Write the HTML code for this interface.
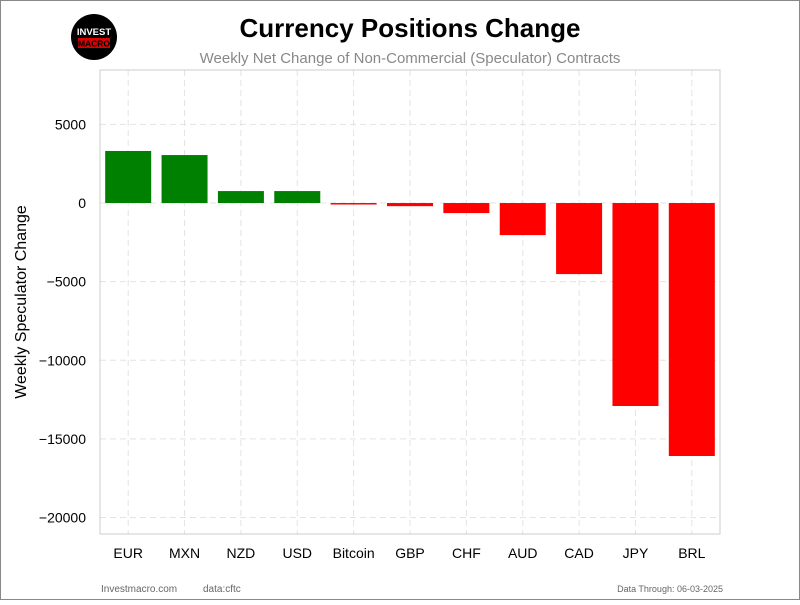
<!DOCTYPE html>
<html><head><meta charset="utf-8"><style>
html,body{margin:0;padding:0;background:#fff;}
body{width:800px;height:600px;overflow:hidden;font-family:"Liberation Sans",sans-serif;}
</style></head><body>
<svg width="800" height="600" xmlns="http://www.w3.org/2000/svg" style="font-family:'Liberation Sans',sans-serif">
<rect x="0.5" y="0.5" width="799" height="599" fill="#fff" stroke="#888"/>
<g>
<circle cx="94" cy="37" r="23" fill="#000"/>
<text x="94" y="35" font-size="9.5" font-weight="bold" fill="#fff" text-anchor="middle">INVEST</text>
<rect x="78" y="38" width="32" height="10" fill="#d00"/>
<text x="94" y="46.5" font-size="8.5" font-weight="bold" fill="#000" text-anchor="middle">MACRO</text>
</g>
<text x="410" y="37" font-size="26" font-weight="bold" text-anchor="middle">Currency Positions Change</text>
<text x="410" y="63" font-size="15" fill="#888" text-anchor="middle">Weekly Net Change of Non-Commercial (Speculator) Contracts</text>
<g id="grid"></g>
<g id="bars"></g>
<rect x="100" y="70" width="620" height="464" fill="none" stroke="#ccc"/>
<g id="yticks"></g>
<g id="xticks"></g>
<text transform="translate(26,302) rotate(-90)" font-size="16" text-anchor="middle">Weekly Speculator Change</text>
<text x="101" y="592" font-size="10" fill="#666">Investmacro.com</text>
<text x="203" y="592" font-size="10" fill="#666">data:cftc</text>
<text x="723" y="592" font-size="9" fill="#666" text-anchor="end">Data Through: 06-03-2025</text>
</svg>
<script>
const categories=["EUR","MXN","NZD","USD","Bitcoin","GBP","CHF","AUD","CAD","JPY","BRL"];
const values=[3310,3050,760,760,-60,-200,-640,-2040,-4520,-12910,-16090];
const yTicks=[5000,0,-5000,-10000,-15000,-20000];
const yTickLabels=["5000","0","\u22125000","\u221210000","\u221215000","\u221220000"];
const NS="http://www.w3.org/2000/svg";
const L=100,R=720,T=70,B=534,yMax=8460,yMin=-21050;
function y(v){return T+(yMax-v)/(yMax-yMin)*(B-T);}
const step=(R-L)/categories.length;
function x(i){return L+step*(i+0.5);}
function mk(tag,attrs,parent){const e=document.createElementNS(NS,tag);for(const k in attrs)e.setAttribute(k,attrs[k]);document.getElementById(parent).appendChild(e);return e;}
yTicks.forEach((t,i)=>{
  const g=mk("line",{x1:L,x2:R,y1:y(t),y2:y(t),stroke:"#e3e3e3","stroke-dasharray":"6,4"},"grid");
  
  
  const tx=mk("text",{x:L-14,y:y(t)+5,"font-size":14,"text-anchor":"end"},"yticks");
  tx.textContent=yTickLabels[i];
  
  
});
categories.forEach((c,i)=>{
  const g=mk("line",{x1:x(i),x2:x(i),y1:T,y2:B,stroke:"#e3e3e3","stroke-dasharray":"6,4"},"grid");
  
  
  const v=values[i];
  const y0=y(0),y1=y(v);
  const b=mk("rect",{x:x(i)-23,width:46,y:Math.min(y0,y1),height:Math.max(Math.abs(y1-y0),1.5),fill:v>=0?"#008000":"#ff0000"},"bars");
  
  
  const tx=mk("text",{x:x(i),y:B+24,"font-size":14,"text-anchor":"middle"},"xticks");
  tx.textContent=c;
  
  
});
</script>
</body></html>
